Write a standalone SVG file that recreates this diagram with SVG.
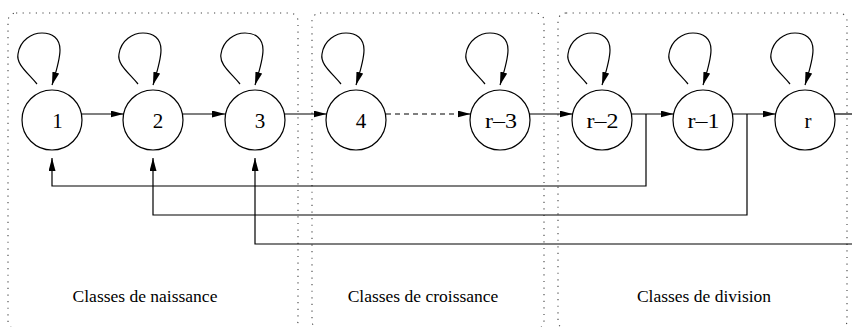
<svg xmlns="http://www.w3.org/2000/svg" width="852" height="327" viewBox="0 0 852 327">
<style>
.box{fill:none;stroke:#444;stroke-width:1.1;stroke-dasharray:1.2 5.4}
.node circle{fill:#fff;stroke:#000;stroke-width:1.2}
.node text{font-family:"Liberation Serif","Times New Roman",serif;font-size:21px;text-anchor:middle;fill:#000}
.edge{fill:none;stroke:#000;stroke-width:1.2}
.arr{marker-end:url(#ah)}
.dash{stroke-dasharray:5 4}
.lbl{font-family:"Liberation Serif","Times New Roman",serif;font-size:17.5px;text-anchor:middle;fill:#000}
</style>
<defs>
<marker id="ah" markerUnits="userSpaceOnUse" markerWidth="14" markerHeight="8" refX="13" refY="3.5" orient="auto">
<path d="M0,0 L13,3.5 L0,7 z" fill="#000"/>
</marker>
</defs>
<g id="groups">
<rect class="box" x="8" y="13" width="290" height="316" rx="8"/>
<rect class="box" x="312" y="13" width="232" height="316" rx="8"/>
<rect class="box" x="558" y="13" width="289" height="316" rx="8"/>
<text class="lbl" x="145" y="302">Classes de naissance</text>
<text class="lbl" x="423" y="302">Classes de croissance</text>
<text class="lbl" x="704" y="302">Classes de division</text>
</g>
<g id="connectors">
<path class="edge arr" d="M37,84 C27,72 16,64 18,54 C20,40 32,33 42,33 C52,33 60,38 60,50 C60,60 56,72 52,85"/>
<path class="edge arr" d="M138,84 C128,72 117,64 119,54 C121,40 133,33 143,33 C153,33 161,38 161,50 C161,60 157,72 153,85"/>
<path class="edge arr" d="M240,84 C230,72 219,64 221,54 C223,40 235,33 245,33 C255,33 263,38 263,50 C263,60 259,72 255,85"/>
<path class="edge arr" d="M341,84 C331,72 320,64 322,54 C324,40 336,33 346,33 C356,33 364,38 364,50 C364,60 360,72 356,85"/>
<path class="edge arr" d="M485,84 C475,72 464,64 466,54 C468,40 480,33 490,33 C500,33 508,38 508,50 C508,60 504,72 500,85"/>
<path class="edge arr" d="M587,84 C577,72 566,64 568,54 C570,40 582,33 592,33 C602,33 610,38 610,50 C610,60 606,72 602,85"/>
<path class="edge arr" d="M688,84 C678,72 667,64 669,54 C671,40 683,33 693,33 C703,33 711,38 711,50 C711,60 707,72 703,85"/>
<path class="edge arr" d="M790,84 C780,72 769,64 771,54 C773,40 785,33 795,33 C805,33 813,38 813,50 C813,60 809,72 805,85"/>
<path class="edge arr" d="M82,114 L123.5,114"/>
<path class="edge arr" d="M183,114 L225,114"/>
<path class="edge arr" d="M285,114 L326.5,114"/>
<path class="edge dash arr" d="M386,114 L470.5,114"/>
<path class="edge arr" d="M530,114 L572.5,114"/>
<path class="edge arr" d="M632,114 L673.5,114"/>
<path class="edge arr" d="M733,114 L775.5,114"/>
<path class="edge" d="M834,114 L853,114"/>
<path class="edge arr" d="M646,114 L646,186 L52,186 L52,158"/>
<path class="edge arr" d="M747,114 L747,215 L153,215 L153,158"/>
<path class="edge arr" d="M853,244 L255,244 L255,158"/>
</g>
<g id="n1" class="node"><circle cx="52" cy="120" r="30"/><text x="57.5" y="128">1</text></g>
<g id="n2" class="node"><circle cx="153" cy="120" r="30"/><text x="158" y="128">2</text></g>
<g id="n3" class="node"><circle cx="255" cy="120" r="30"/><text x="260" y="128">3</text></g>
<g id="n4" class="node"><circle cx="356" cy="120" r="30"/><text x="361" y="128">4</text></g>
<g id="nr3" class="node"><circle cx="500" cy="120" r="30"/><text x="501" y="128" textLength="32" lengthAdjust="spacingAndGlyphs">r–3</text></g>
<g id="nr2" class="node"><circle cx="602" cy="120" r="30"/><text x="602.5" y="128" textLength="32" lengthAdjust="spacingAndGlyphs">r–2</text></g>
<g id="nr1" class="node"><circle cx="703" cy="120" r="30"/><text x="703.5" y="128" textLength="32" lengthAdjust="spacingAndGlyphs">r–1</text></g>
<g id="nr" class="node"><circle cx="805" cy="120" r="30"/><text x="808" y="128">r</text></g>
</svg>
